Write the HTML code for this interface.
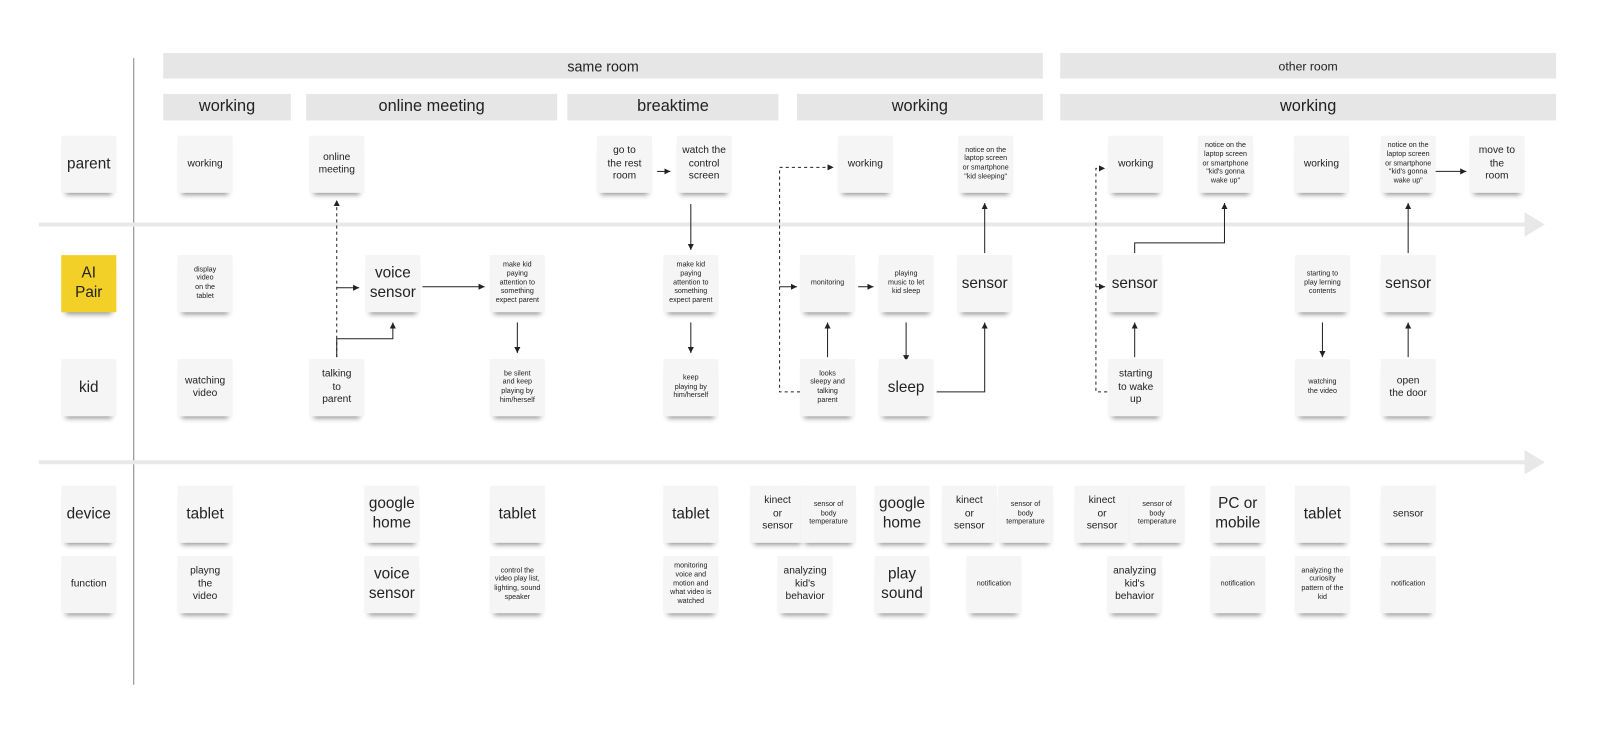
<!DOCTYPE html>
<html><head><meta charset="utf-8">
<style>
html,body{margin:0;padding:0;background:#fff;width:1600px;height:741px;overflow:hidden}
#w{position:absolute;left:0;top:0;width:1568px;height:726px;transform:scale(1.0204);transform-origin:0 0;font-family:"Liberation Sans",sans-serif;color:#222}
.bar{position:absolute;background:#e6e6e6;display:flex;align-items:center;justify-content:center}
.n{position:absolute;width:54px;height:56px;background:#f5f5f5;display:flex;align-items:center;justify-content:center;text-align:center;line-height:1.25;box-shadow:0 6px 5px -4px rgba(0,0,0,.45);box-sizing:border-box;padding:2px}
.b{font-size:15px}.m{font-size:10px}.s{font-size:7px}
svg{position:absolute;left:0;top:0}
</style></head><body><div id="w">
<svg width="1568" height="726">
<defs><marker id="a" markerWidth="8" markerHeight="8" refX="6" refY="3" orient="auto"><path d="M0,0 L6,3 L0,6z" fill="#222"/></marker>
<marker id="g" markerWidth="6" markerHeight="6" refX="4" refY="3" orient="auto"><path d="M0,0 L5,3 L0,6z" fill="#e8e8e8"/></marker></defs>
<line x1="131" y1="57" x2="131" y2="671" stroke="#999" stroke-width="1.2"/>
<line x1="38" y1="220" x2="1510" y2="220" stroke="#e8e8e8" stroke-width="4" marker-end="url(#g)"/>
<line x1="38" y1="453" x2="1510" y2="453" stroke="#e8e8e8" stroke-width="4" marker-end="url(#g)"/>
<g fill="none" stroke="#222" stroke-width="1" marker-end="url(#a)">
<path d="M330,350 V196" stroke-dasharray="3,3"/>
<path d="M330,282 H352"/>
<path d="M330,350 V332 H385 V316"/>
<path d="M414,281 H475"/>
<path d="M507,316 V346"/>
<path d="M644,168 H657"/>
<path d="M677,200 V245"/>
<path d="M677,316 V346"/>
<path d="M784,384 H764 V164 H817" stroke-dasharray="3,3"/>
<path d="M764,281 H781"/>
<path d="M841,281 H856"/>
<path d="M811,350 V316"/>
<path d="M888,316 V354"/>
<path d="M918,384 H965 V316"/>
<path d="M965,248 V199"/>
<path d="M1085,384 H1074 V165 H1083" stroke-dasharray="3,3"/>
<path d="M1074,281 H1083"/>
<path d="M1112,350 V316"/>
<path d="M1112,248 V238 H1200 V199"/>
<path d="M1296,316 V350"/>
<path d="M1380,350 V316"/>
<path d="M1380,248 V199"/>
<path d="M1403,168 H1437"/>
</g>
</svg>
<div class="bar" style="left:160px;top:52px;width:862px;height:25px;font-size:14px">same room</div>
<div class="bar" style="left:1039px;top:52px;width:486px;height:25px;font-size:12px">other room</div>
<div class="bar" style="left:160px;top:92px;width:125px;height:26px;font-size:16px">working</div>
<div class="bar" style="left:300px;top:92px;width:246px;height:26px;font-size:16px">online meeting</div>
<div class="bar" style="left:556px;top:92px;width:207px;height:26px;font-size:16px">breaktime</div>
<div class="bar" style="left:781px;top:92px;width:241px;height:26px;font-size:16px">working</div>
<div class="bar" style="left:1039px;top:92px;width:486px;height:26px;font-size:16px">working</div>
<div id="notes"></div>
</div>
<script>
var N=[
[87,133,'b','parent'],[87,250,'b','AI<br>Pair','#f2d027'],[87,352,'b','kid'],[87,476,'b','device'],[87,545,'m','function'],
[201,133,'m','working'],[330,133,'m','online<br>meeting'],[612,133,'m','go to<br>the rest<br>room'],[690,133,'m','watch the<br>control<br>screen'],[848,133,'m','working'],[966,133,'s','notice on the<br>laptop screen<br>or smartphone<br>"kid sleeping"'],[1113,133,'m','working'],[1201,133,'s','notice on the<br>laptop screen<br>or smartphone<br>"kid\'s gonna<br>wake up"'],[1295,133,'m','working'],[1380,133,'s','notice on the<br>laptop screen<br>or smartphone<br>"kid\'s gonna<br>wake up"'],[1467,133,'m','move to<br>the<br>room'],
[201,250,'s','display<br>video<br>on the<br>tablet'],[385,250,'b','voice<br>sensor'],[507,250,'s','make kid<br>paying<br>attention to<br>something<br>expect parent'],[677,250,'s','make kid<br>paying<br>attention to<br>something<br>expect parent'],[811,250,'s','monitoring'],[888,250,'s','playing<br>music to let<br>kid sleep'],[965,250,'b','sensor'],[1112,250,'b','sensor'],[1296,250,'s','starting to<br>play lerning<br>contents'],[1380,250,'b','sensor'],
[201,352,'m','watching<br>video'],[330,352,'m','talking<br>to<br>parent'],[507,352,'s','be silent<br>and keep<br>playing by<br>him/herself'],[677,352,'s','keep<br>playing by<br>him/herself'],[811,352,'s','looks<br>sleepy and<br>talking<br>parent'],[888,352,'b','sleep'],[1113,352,'m','starting<br>to wake<br>up'],[1296,352,'s','watching<br>the video'],[1380,352,'m','open<br>the door'],
[201,476,'b','tablet'],[384,476,'b','google<br>home'],[507,476,'b','tablet'],[677,476,'b','tablet'],[762,476,'m','kinect<br>or<br>sensor'],[812,476,'s','sensor of<br>body<br>temperature'],[884,476,'b','google<br>home'],[950,476,'m','kinect<br>or<br>sensor'],[1005,476,'s','sensor of<br>body<br>temperature'],[1080,476,'m','kinect<br>or<br>sensor'],[1134,476,'s','sensor of<br>body<br>temperature'],[1213,476,'b','PC or<br>mobile'],[1296,476,'b','tablet'],[1380,476,'m','sensor'],
[201,545,'m','playng<br>the<br>video'],[384,545,'b','voice<br>sensor'],[507,545,'s','control the<br>video play list,<br>lighting, sound<br>speaker'],[677,545,'s','monitoring<br>voice and<br>motion and<br>what video is<br>watched'],[789,545,'m','analyzing<br>kid\'s<br>behavior'],[884,545,'b','play<br>sound'],[974,545,'s','notification'],[1112,545,'m','analyzing<br>kid\'s<br>behavior'],[1213,545,'s','notification'],[1296,545,'s','analyzing the<br>curiosity<br>pattern of the<br>kid'],[1380,545,'s','notification']
];
var h='';N.forEach(function(n){h+='<div class="n '+n[2]+'" style="left:'+(n[0]-27)+'px;top:'+n[1]+'px'+(n[4]?';background:'+n[4]:'')+'">'+n[3]+'</div>';});
document.getElementById('notes').innerHTML=h;
</script>
</body></html>
